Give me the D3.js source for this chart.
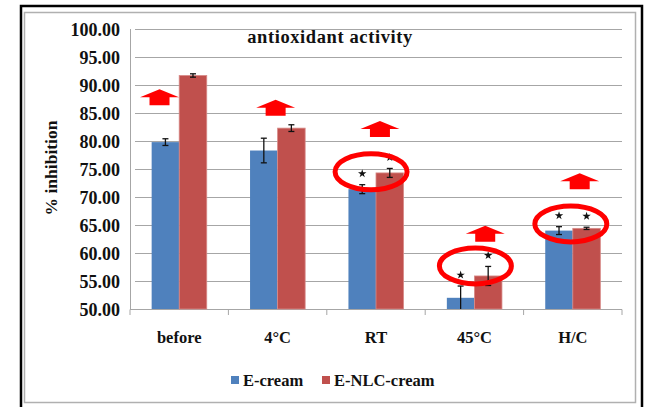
<!DOCTYPE html>
<html>
<head>
<meta charset="utf-8">
<script src="https://cdn.jsdelivr.net/npm/d3@7"></script>
<style>
  body { margin: 0; background: #fff; }
</style>
</head>
<body>
<svg id="chart"></svg>
<script>
// data
const categories = ['before', '4°C', 'RT', '45°C', 'H/C'];
const seriesNames = ['E-cream', 'E-NLC-cream'];
const eCream = [79.8, 78.3, 71.4, 52.0, 64.0];
const eCreamErr = [0.6, 2.2, 0.8, 2.1, 0.7];
const nlcCream = [91.7, 82.3, 74.3, 55.9, 64.4];
const nlcCreamErr = [0.3, 0.6, 0.8, 1.7, 0.2];
const eCreamStar = [false, false, true, true, true];
const nlcCreamStar = [false, false, true, true, true];
const yTicks = [50, 55, 60, 65, 70, 75, 80, 85, 90, 95, 100];

// red annotations (arrow bottom value, place inside the band), ellipses (centre value)
const arrowBase = [86.4, 84.5, 80.7, 62.0, 71.4];
const arrowPlace = [0.30, 0.48, 0.54, 0.61, 0.57];
const ringCats = ['RT', '45°C', 'H/C'];
const ringValue = [74.5, 57.7, 65.2];
const ringPlace = [0.45, 0.51, 0.48];

const W = 648, H = 407;
const COLORS = ['#4F81BD', '#C0504D'];
const RED = '#FF0000';
const FONT = "'Liberation Serif', 'DejaVu Serif', serif";

const svg = d3.select('#chart').attr('width', W).attr('height', H);

// frames
svg.append('rect').attr('x', 21).attr('y', 6).attr('width', 621).attr('height', 420)
  .attr('fill', 'none').attr('stroke', '#000').attr('stroke-width', 2.5);
svg.append('rect').attr('x', 24.5).attr('y', 12.5).attr('width', 611).attr('height', 390)
  .attr('fill', 'none').attr('stroke', '#b0b0b0').attr('stroke-width', 1.5);

const x = d3.scaleBand().domain(categories).range([130, 622]);
const xs = d3.scaleBand().domain(seriesNames)
  .range([x.bandwidth() * 0.22, x.bandwidth() * 0.78]);
const y = d3.scaleLinear().domain([50, 100]).range([309, 29]);

// gridlines + y axis
const yAxis = svg.append('g').attr('transform', 'translate(130,0)')
  .call(d3.axisLeft(y).tickValues(yTicks).tickFormat(d3.format('.2f'))
    .tickSize(-492).tickPadding(10));
yAxis.selectAll('line').attr('stroke', '#a6a6a6').attr('x1', 5);
yAxis.select('.domain').attr('stroke', '#a6a6a6').attr('d', 'M0.5,29V309');
yAxis.selectAll('text').attr('fill', '#111').attr('dy', '0.36em')
  .style('font-family', FONT).style('font-weight', 'bold').style('font-size', '18px');

// x axis
const xAxis = svg.append('g').attr('transform', 'translate(0,309.5)')
  .call(d3.axisBottom(x).tickSize(0).tickPadding(22));
xAxis.select('.domain').attr('stroke', '#a6a6a6').attr('d', 'M130,0H622');
xAxis.selectAll('text').attr('fill', '#111')
  .style('font-family', FONT).style('font-weight', 'bold').style('font-size', '16.5px');
svg.append('g').selectAll('line').data(d3.range(categories.length + 1)).enter().append('line')
  .attr('x1', (d) => 130 + d * x.step()).attr('x2', (d) => 130 + d * x.step())
  .attr('y1', 309.5).attr('y2', 315).attr('stroke', '#a6a6a6');

// bars
const rows = [];
categories.forEach((c, i) => {
  rows.push({ cat: c, s: seriesNames[0], v: eCream[i], e: eCreamErr[i], star: eCreamStar[i], k: 0 });
  rows.push({ cat: c, s: seriesNames[1], v: nlcCream[i], e: nlcCreamErr[i], star: nlcCreamStar[i], k: 1 });
});
const bx = (d) => x(d.cat) + xs(d.s);
const cx = (d) => bx(d) + xs.bandwidth() / 2;

svg.append('g').selectAll('rect').data(rows).enter().append('rect')
  .attr('x', bx).attr('width', xs.bandwidth())
  .attr('y', (d) => y(d.v)).attr('height', (d) => y(50) - y(d.v))
  .attr('fill', (d) => COLORS[d.k])
  .attr('stroke', (d) => d.k ? '#d88a88' : 'none').attr('stroke-width', 0.8);

// error bars
const err = svg.append('g').attr('stroke', '#111').attr('stroke-width', 1.3);
rows.forEach((d) => {
  const lo = Math.max(d.v - d.e, 50);
  err.append('line').attr('x1', cx(d)).attr('x2', cx(d)).attr('y1', y(d.v + d.e)).attr('y2', y(lo));
  err.append('line').attr('x1', cx(d) - 3).attr('x2', cx(d) + 3).attr('y1', y(d.v + d.e)).attr('y2', y(d.v + d.e));
  if (d.v - d.e > 50) {
    err.append('line').attr('x1', cx(d) - 3).attr('x2', cx(d) + 3).attr('y1', y(lo)).attr('y2', y(lo));
  }
});

// significance stars
svg.append('g').selectAll('path').data(rows.filter((d) => d.star)).enter().append('path')
  .attr('d', d3.symbol(d3.symbolStar).size(22))
  .attr('transform', (d) => `translate(${cx(d)},${y(d.v + d.e) - 11})`)
  .attr('fill', '#111');

// red arrows
const arrow = 'M-19.5,8L0,0L19.5,8L10,8L10,16L-10,16L-10,8Z';
svg.append('g').selectAll('path').data(categories).enter().append('path')
  .attr('d', arrow).attr('fill', RED)
  .attr('transform', (d, i) => `translate(${x(d) + arrowPlace[i] * x.bandwidth()},${y(arrowBase[i]) - 16})`);

// red rings
svg.append('g').selectAll('ellipse').data(ringCats).enter().append('ellipse')
  .attr('cx', (d, i) => x(d) + ringPlace[i] * x.bandwidth())
  .attr('cy', (d, i) => y(ringValue[i]))
  .attr('rx', 36).attr('ry', 18)
  .attr('fill', 'none').attr('stroke', RED).attr('stroke-width', 5);

// title and axis title
const label = (sel) => sel.attr('fill', '#111').style('font-family', FONT).style('font-weight', 'bold');
svg.append('text').attr('x', 330).attr('y', 43).attr('text-anchor', 'middle')
  .call(label).style('font-size', '18.5px').style('letter-spacing', '0.6px').text('antioxidant activity');
svg.append('text').attr('transform', 'translate(57,168) rotate(-90)')
  .attr('text-anchor', 'middle').call(label).style('font-size', '17.5px').text('% inhibition');

// legend
const lg = svg.append('g');
[[231, 243], [322, 334]].forEach((p, i) => {
  lg.append('rect').attr('x', p[0]).attr('y', 376).attr('width', 8).attr('height', 8).attr('fill', COLORS[i]);
  lg.append('text').attr('x', p[1]).attr('y', 386).call(label).style('font-size', '16.5px').text(seriesNames[i]);
});
</script>
</body>
</html>
